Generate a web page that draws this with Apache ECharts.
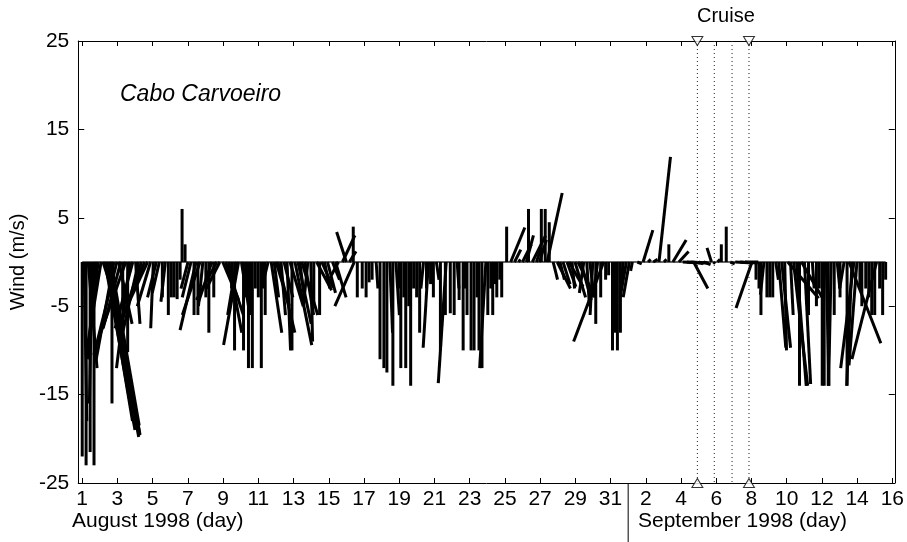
<!DOCTYPE html>
<html>
<head>
<meta charset="utf-8">
<title>Cabo Carvoeiro wind</title>
<script src="https://cdn.jsdelivr.net/npm/echarts@6.0.0/dist/echarts.min.js"></script>
<style>
  html, body { margin: 0; padding: 0; background: #fff; }
  #chart { width: 907px; height: 542px; }
</style>
</head>
<body>
<div id="chart"></div>
<script>
// time is in days since 1 Aug 1998 (0 = Aug 1, 31 = Sep 1)
const dayTicks = [0, 2, 4, 6, 8, 10, 12, 14, 16, 18, 20, 22, 24, 26, 28, 30, 32, 34, 36, 38, 40, 42, 44, 46]
const windTicks = [-25, -15, -5, 5, 15, 25]
const monthBreak = 31
const cruiseLines = [34.93, 35.89, 36.9, 37.86]
const cruiseEnds = [34.93, 37.86]
const baselineEnd = 45.62

// [time, u (m/s east), v (m/s north)]
const windSticks = [
  // Aug 1 - 6
  [0.00, 0, -22], [0.11, 0.3, -18], [0.22, 0, -23], [0.34, 1.0, -12], [0.45, 0, -21.5],
  [0.56, -0.3, -16], [0.67, 0, -23], [0.79, -0.8, -9], [0.90, -1.2, -11], [1.07, -1.7, -10.5],
  [1.18, 1.7, -5.2], [1.29, 3.4, -19], [1.35, 3.0, -18], [1.40, 3.6, -19.8], [1.52, 3.5, -19.5],
  [1.57, 3.4, -19.6], [1.63, 3.2, -18.5], [1.69, 0, -16], [1.80, -2, -11], [1.97, -2.6, -10.5],
  [2.08, 1.5, -7], [2.19, -2, -7.5], [2.30, 0, -9], [2.47, -3, -8.5], [2.58, 0, -10.2],
  [2.70, -1.5, -12], [2.87, -2, -7.5], [3.03, 0.5, -7], [3.20, -1.8, -8], [3.37, -2.5, -7.5],
  [3.54, -2.8, -7], [3.71, -3, -6.5], [3.88, -1.5, -5], [4.04, -0.3, -7.5], [4.21, -1, -4],
  [4.38, -0.8, -3.5], [4.55, 0, -4], [4.72, -0.5, -4.5], [4.89, 0, -6],
  // Aug 6 - 8
  [5.06, 0, -4], [5.22, 0, -4], [5.39, 0, -4.2], [5.56, 0, -2], [5.67, 0, 6], [5.84, 0, 2],
  [6.01, -0.8, -3], [6.18, -1, -4], [6.35, 0, -6], [6.46, -1.8, -7.7], [6.57, 0, -6], [6.69, -2, -6],
  // Aug 8 - 11
  [6.85, -0.5, -5], [7.02, 0, -4], [7.19, 0, -8], [7.36, -1.5, -4.5], [7.47, 0, -4],
  [7.64, -2.3, -4.3], [7.81, -1.5, -3], [7.98, 1.8, -4.3], [8.15, 2, -6], [8.31, 1.5, -8],
  [8.48, 0, -3], [8.65, 0, -10], [8.76, -1, -6], [8.88, -1.7, -9.4], [9.04, 0.8, -5],
  [9.16, 0, -10], [9.33, 0, -4], [9.44, 0, -12], [9.55, 0, -6], [9.66, 0, -12],
  [9.83, 0, -3], [10.00, 0, -4], [10.17, 0, -12], [10.28, 0, -3], [10.39, 0, -6], [10.56, -0.5, -2],
  // Aug 12 - 15
  [10.73, 1.2, -8], [10.90, 0.5, -4], [11.01, 1.5, -5], [11.12, 1.9, -8], [11.29, 0.5, -6],
  [11.46, 1, -4], [11.63, 0.4, -10], [11.80, 1.5, -5], [11.91, 0, -10], [12.08, 1.9, -9.4],
  [12.25, 1.5, -7], [12.36, 0.5, -4], [12.47, 1.8, -6], [12.64, 1, -6], [12.81, -0.5, -5],
  [12.98, 0.2, -9], [13.15, 0, -5], [13.31, 1.7, -3.2], [13.48, 0, -6], [13.60, 1.3, -2.9],
  [13.76, 0.6, -3], [13.93, 0.9, -3.5],
  // Aug 15 - 17
  [14.21, 0.8, -2], [14.38, 1.2, -4], [14.55, -0.8, -1.5], [14.78, 1.4, 3], [15.00, -1.1, 3.4],
  [15.17, 0.75, 1.2], [15.39, 0, 4], [15.45, -2.2, -5], [15.62, 0, -4], [15.90, 0, -3],
  [16.12, 0, -4], [16.29, 0, -2.3], [16.46, 0, -2],
  // Aug 17 - 21
  [16.69, 0.2, -3], [16.91, 0, -11], [17.13, 0, -12], [17.30, 0, -12.5], [17.47, 0.3, -8],
  [17.64, 0, -14], [17.81, 0.4, -6], [17.98, 0, -3], [18.09, 0, -12], [18.26, 0, -4],
  [18.37, 0, -12], [18.54, 0, -5], [18.65, 0, -14], [18.82, 0, -3], [18.99, 0, -4],
  [19.16, 0, -8], [19.38, -0.3, -3], [19.55, 0, -3], [19.66, -0.6, -9.7], [19.78, 0, -2.5],
  [19.94, 0, -4], [20.11, 0.3, -2], [20.34, 0, -10], [20.62, 0, -6], [20.67, -0.9, -13.7],
  // Aug 22 - 25
  [20.90, 0, -5.8], [21.12, 0, -6], [21.29, 0.2, -3], [21.40, 0, -4.3], [21.63, 0, -10],
  [21.74, 0, -3], [21.85, 0, -6], [22.08, 0, -10], [22.25, 0, -10], [22.42, 0, -4],
  [22.53, 0, -10], [22.70, 0, -12], [22.92, -0.7, -12], [23.03, 0, -6], [23.20, 0, -3],
  [23.31, 0, -6], [23.43, 0, -2.5], [23.54, 0, -4], [23.71, 0, -2], [23.82, 0, -4],
  // Aug 25 - 28
  [24.10, 0, 4], [24.33, 1.6, 3.9], [24.55, 0.7, 1.4], [24.78, 0.2, 0.3], [25.00, 1, 2],
  [25.22, 0.8, 3], [25.34, 0, 6], [25.56, 1.5, 3], [25.79, 0.5, 1.5], [25.96, 0.8, 2.5],
  [26.07, 0, 6], [26.29, 0, 6], [26.40, 1.7, 7.8], [26.52, 0, 4.5], [26.74, 0.5, -2], [26.97, 1.5, -3],
  // Aug 28 - Sep 1
  [27.13, 0.5, -2], [27.30, 0.8, -2.5], [27.53, 1, -2.8], [27.64, 1.6, -2.8], [27.81, 0.3, -3],
  [27.98, 1.2, -4], [28.15, 1.7, -3.5], [28.31, 1.2, -4.3], [28.48, -0.5, -3.5], [28.65, 0.3, -5],
  [28.82, 0.5, -4], [28.99, -0.3, -6], [29.16, 0, -7], [29.27, -0.5, -4], [29.44, 0, -4],
  [29.61, -3.4, -9], [29.72, 0, -2], [29.89, 0, -1.5], [30.11, 0, -10], [30.28, 0, -8],
  [30.39, 0, -10], [30.56, 0, -8], [30.73, -0.3, -3], [30.90, -0.7, -4], [31.07, -0.7, -4], [31.24, -0.2, -1],
  // Sep 1 - 5
  [31.52, 0.5, -0.2], [31.85, 1.1, 3.6], [32.13, 0.3, 0.3], [32.42, 0.5, 0.3], [32.75, 1.3, 11.9],
  [33.03, 0.3, 0.3], [33.31, 0, 2], [33.54, 1.5, 2.5], [33.88, 1.1, 1.2], [34.10, 2, -0.1],
  [34.33, 2, -0.1], [34.55, 2, -0.1], [34.72, 1.6, -3],
  // Sep 5 - 9 (cruise)
  [35.00, 0.5, -0.2], [35.28, 0.8, -0.3], [35.73, -0.5, 1.6], [35.84, 0.2, -0.2], [36.07, 0.3, 0.3],
  [36.29, 0, 2], [36.57, 0, 4], [36.80, 0.5, -0.2], [37.08, 2, -0.1], [37.36, 2, -0.1],
  [37.64, 1.5, 0], [38.03, -1.8, -5.2],
  // Sep 9 - 16
  [38.26, 0, -2], [38.43, 0, -3], [38.54, 0, -6], [38.71, -0.4, -3.7], [38.88, 0, -4],
  [39.04, 0, -4], [39.21, 0, -4], [39.38, 0.3, -2], [39.55, 0.8, -9.7], [39.72, 1, -9.7],
  [39.89, 0.2, -10], [40.06, 3.5, -4.1], [40.22, 0.3, -6], [40.39, 1.6, -14], [40.56, 1.1, -14],
  [40.73, 0, -14], [40.84, 2.4, -4.1], [41.01, 0.7, -13.8], [41.24, 0, -6], [41.46, 0.2, -3],
  [41.69, 0, -5], [41.85, 0, -3], [42.02, 0, -14], [42.13, 0, -14], [42.25, 0.3, -14],
  [42.36, 0, -14], [42.53, -0.3, -14], [42.70, 0, -6], [42.87, 0.3, -3], [43.03, 0, -4],
  [43.26, -0.5, -3], [43.43, 0, -14], [43.54, 3.6, -9.2], [43.71, -0.6, -14], [43.82, -1.5, -12],
  [43.99, -0.9, -11.7], [44.16, 0, -3], [44.27, 0, -5], [44.49, 0, -3], [44.66, 0, -4],
  [44.83, 0, -6], [45.00, 0, -6], [45.11, -2.8, -11], [45.28, 0, -3], [45.45, 0, -6], [45.62, 0, -2]
]

const FONT = '"Liberation Sans", Arial, sans-serif'
const dayLabel = (v) => (v <= 30 ? String(v + 1) : String(v - 30))

const chart = echarts.init(document.getElementById('chart'))

const frameAxis = {
  axisLine: { show: true, onZero: false, lineStyle: { color: '#000', width: 1 } },
  splitLine: { show: false },
}

// wind vector drawn from its time on the zero line, same px scale on both components
const renderStick = (params, api) => {
  const base = api.coord([api.value(0), 0])
  const unit = api.size([0, 1])[1]
  return {
    type: 'line',
    shape: {
      x1: base[0], y1: base[1],
      x2: base[0] + api.value(1) * unit, y2: base[1] - api.value(2) * unit,
    },
    style: { stroke: '#000', lineWidth: 3, lineCap: 'butt' },
  }
}

const renderCruiseLine = (params, api) => {
  const top = api.coord([api.value(0), 25])
  const bottom = api.coord([api.value(0), -25])
  return {
    type: 'line',
    shape: { x1: top[0], y1: top[1], x2: bottom[0], y2: bottom[1] },
    style: { stroke: '#222', lineWidth: 1, lineDash: [1, 3] },
  }
}

const renderMonthBreak = (params, api) => {
  const p = api.coord([api.value(0), -25])
  return {
    type: 'line',
    shape: { x1: p[0], y1: p[1], x2: p[0], y2: p[1] + 60 },
    style: { stroke: '#000', lineWidth: 1 },
  }
}

const triangleStyle = { color: '#fff', borderColor: '#000', borderWidth: 1 }

chart.setOption({
  animation: false,
  grid: { left: 76, right: 8, top: 41, bottom: 59 },
  xAxis: [
    {
      ...frameAxis,
      type: 'value', min: -0.225, max: 46.14, position: 'bottom',
      axisTick: { inside: true, length: 5, customValues: dayTicks, lineStyle: { color: '#000' } },
      axisLabel: {
        customValues: dayTicks, formatter: dayLabel, margin: 6,
        color: '#000', fontSize: 21, fontFamily: FONT,
      },
    },
    {
      ...frameAxis,
      type: 'value', min: -0.225, max: 46.14, position: 'top',
      axisTick: { inside: true, length: 5, customValues: dayTicks, lineStyle: { color: '#000' } },
      axisLabel: { show: false },
    },
  ],
  yAxis: [
    {
      ...frameAxis,
      type: 'value', min: -25, max: 25, position: 'left',
      name: 'Wind (m/s)', nameLocation: 'middle', nameGap: 48,
      nameTextStyle: { color: '#000', fontSize: 20, fontFamily: FONT },
      axisTick: { inside: true, length: 6, customValues: windTicks, lineStyle: { color: '#000' } },
      axisLabel: { customValues: windTicks, margin: 9, color: '#000', fontSize: 21, fontFamily: FONT },
    },
    {
      ...frameAxis,
      type: 'value', min: -25, max: 25, position: 'right',
      axisTick: { inside: true, length: 6, customValues: windTicks, lineStyle: { color: '#000' } },
      axisLabel: { show: false },
    },
  ],
  graphic: [
    { type: 'text', left: 120, top: 83, style: { text: 'Cabo Carvoeiro', font: 'italic 23px "Liberation Sans", Arial', fill: '#000' } },
    { type: 'text', left: 697, top: 6, style: { text: 'Cruise', font: '20px "Liberation Sans", Arial', fill: '#000' } },
    { type: 'text', left: 72, top: 511, style: { text: 'August 1998 (day)', font: '21px "Liberation Sans", Arial', fill: '#000' } },
    { type: 'text', left: 638, top: 511, style: { text: 'September 1998 (day)', font: '21px "Liberation Sans", Arial', fill: '#000' } },
  ],
  series: [
    {
      type: 'line', name: 'baseline', silent: true, z: 1,
      data: [[0, 0], [baselineEnd, 0]],
      symbol: 'none', lineStyle: { color: '#333', width: 1.5 },
    },
    {
      type: 'custom', name: 'wind', z: 2,
      data: windSticks, encode: { x: 0, y: 2 },
      renderItem: renderStick,
    },
    {
      type: 'custom', name: 'cruise', z: 3, silent: true,
      data: cruiseLines.map((t) => [t, 0]), encode: { x: 0, y: 1 },
      renderItem: renderCruiseLine,
    },
    {
      type: 'scatter', name: 'cruise top', z: 4, clip: false, silent: true,
      data: cruiseEnds.map((t) => [t, 25]),
      symbol: 'triangle', symbolRotate: 180, symbolSize: [11, 9], itemStyle: triangleStyle,
    },
    {
      type: 'scatter', name: 'cruise bottom', z: 4, clip: false, silent: true,
      data: cruiseEnds.map((t) => [t, -25]),
      symbol: 'triangle', symbolSize: [11, 9], itemStyle: triangleStyle,
    },
    {
      type: 'custom', name: 'month break', z: 3, clip: false, silent: true,
      data: [[monthBreak, -25]], encode: { x: 0, y: 1 },
      renderItem: renderMonthBreak,
    },
  ],
})

window.addEventListener('resize', () => chart.resize())
</script>
</body>
</html>
